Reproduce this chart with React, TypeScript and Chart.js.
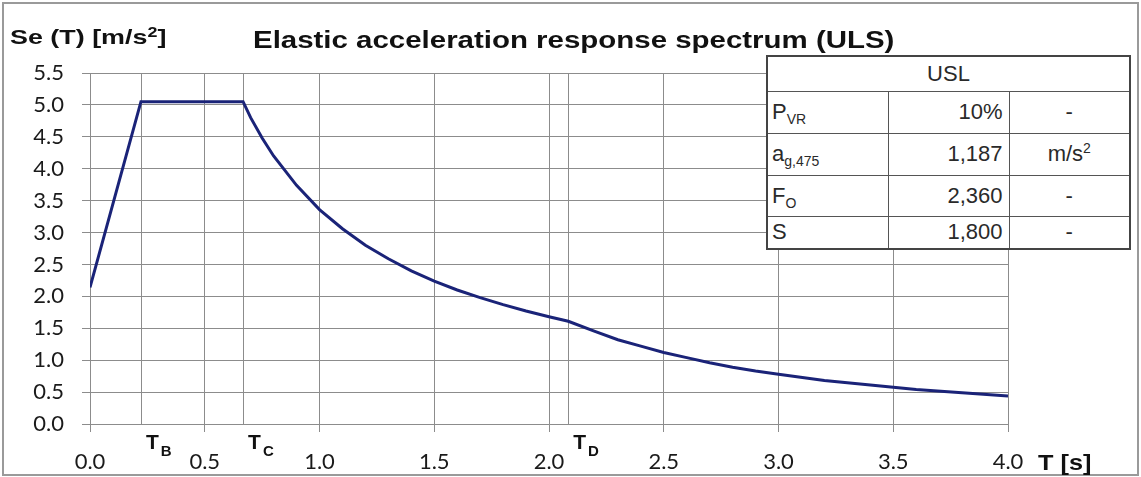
import React, { useEffect, useRef } from "react";
import { Chart, registerables } from "chart.js";

Chart.register(...registerables);

// Period T [s] and elastic spectral acceleration Se(T) [m/s²]
const periods = [0, 0.222, 0.667, 0.7, 0.75, 0.8, 0.9, 1.0, 1.1, 1.2, 1.3, 1.4, 1.5, 1.6, 1.7, 1.8, 1.9, 2.0, 2.084, 2.2, 2.3, 2.4, 2.5, 2.6, 2.7, 2.8, 2.9, 3.0, 3.2, 3.4, 3.6, 3.8, 4.0];
const seValues = [2.14, 5.05, 5.05, 4.8, 4.48, 4.2, 3.74, 3.36, 3.06, 2.8, 2.59, 2.4, 2.24, 2.1, 1.98, 1.87, 1.77, 1.68, 1.61, 1.45, 1.32, 1.22, 1.12, 1.04, 0.96, 0.89, 0.83, 0.78, 0.68, 0.61, 0.54, 0.49, 0.44];

// Corner periods T_B, T_C, T_D
const cornerPeriods = [0.222, 0.667, 2.084];
const cornerNames = ["B", "C", "D"];

// Parameter table
const tableHeader = "USL";
const paramNames = ["P", "a", "F", "S"];
const paramSubs = ["VR", "g,475", "O", ""];
const paramValues = ["10%", "1,187", "2,360", "1,800"];
const paramUnits = ["-", "m/s²", "-", "-"];

const chartTitle = "Elastic acceleration response spectrum (ULS)";
const yTitleMain = "Se (T) [m/s";
const yTitleSup = "2";
const yTitleEnd = "]";
const xTitle = "T [s]";

const GRID = "#8c8c8c";

const cornerPlugin = {
  id: "cornerPeriods",
  beforeDatasetsDraw(chart: any) {
    const { ctx, chartArea, scales } = chart;
    ctx.save();
    ctx.strokeStyle = GRID;
    ctx.lineWidth = 1;
    cornerPeriods.forEach((t) => {
      const x = Math.round(scales.x.getPixelForValue(t)) + 0.5;
      ctx.beginPath();
      ctx.moveTo(x, chartArea.top);
      ctx.lineTo(x, chartArea.bottom);
      ctx.stroke();
    });
    ctx.restore();
  },
  afterDraw(chart: any) {
    const { ctx, chartArea, scales } = chart;
    ctx.save();
    ctx.fillStyle = "#111";
    ctx.textBaseline = "alphabetic";
    ctx.textAlign = "left";
    cornerPeriods.forEach((t, i) => {
      const x = scales.x.getPixelForValue(t) + 5;
      const y = chartArea.bottom + 25;
      ctx.font = "bold 21px 'Liberation Sans', Arial, sans-serif";
      ctx.fillText("T", x, y);
      const w = ctx.measureText("T").width;
      ctx.font = "bold 15px 'Liberation Sans', Arial, sans-serif";
      ctx.fillText(cornerNames[i], x + w + 2, y + 7);
    });
    ctx.restore();
  },
};

export default function App() {
  const canvasRef = useRef<HTMLCanvasElement | null>(null);

  useEffect(() => {
    if (!canvasRef.current) return;
    const chart = new Chart(canvasRef.current, {
      type: "scatter",
      data: {
        datasets: [
          {
            label: "Se(T)",
            data: periods.map((t, i) => ({ x: t, y: seValues[i] })),
            showLine: true,
            borderColor: "#1a2378",
            backgroundColor: "#1a2378",
            borderWidth: 3,
            pointRadius: 0,
            tension: 0,
          },
        ],
      },
      options: {
        animation: false,
        responsive: false,
        maintainAspectRatio: false,
        layout: { padding: { left: 0, top: 73, right: 133, bottom: 0 } },
        plugins: {
          legend: { display: false },
          title: { display: false },
          tooltip: { enabled: false },
        },
        scales: {
          x: {
            type: "linear",
            min: 0,
            max: 4,
            afterFit: (s: any) => {
              s.height = 53;
            },
            ticks: {
              stepSize: 0.5,
              autoSkip: false,
              maxRotation: 0,
              padding: 17,
              color: "#1a1a1a",
              font: { family: "Lato, 'DejaVu Sans', sans-serif", size: 22 },
              callback: (v: any) => Number(v).toFixed(1),
            },
            grid: { color: GRID, lineWidth: 1, tickLength: 8, tickColor: GRID },
            border: { color: GRID, width: 1 },
          },
          y: {
            type: "linear",
            min: 0,
            max: 5.5,
            afterFit: (s: any) => {
              s.width = 90;
            },
            ticks: {
              stepSize: 0.5,
              autoSkip: false,
              padding: 18,
              color: "#1a1a1a",
              font: { family: "Lato, 'DejaVu Sans', sans-serif", size: 22 },
              callback: (v: any) => Number(v).toFixed(1),
            },
            grid: { color: GRID, lineWidth: 1, tickLength: 8, tickColor: GRID },
            border: { color: GRID, width: 1 },
          },
        },
      },
      plugins: [cornerPlugin],
    });
    return () => chart.destroy();
  }, []);

  const boldFont = "'Liberation Sans', Arial, sans-serif";
  const cell: React.CSSProperties = {
    border: "1px solid #555",
    padding: "0 6px",
    fontFamily: boldFont,
    fontSize: 22,
    color: "#2a2a2a",
    whiteSpace: "nowrap",
  };
  const rowHeights = [42, 42, 41, 33];

  return (
    <div
      style={{
        position: "fixed",
        left: 0,
        top: 0,
        width: 1141,
        height: 477,
        background: "#fff",
        overflow: "hidden",
      }}
    >
      <canvas ref={canvasRef} width={1141} height={477} style={{ position: "absolute", left: 0, top: 0, width: 1141, height: 477 }} />
      <div
        style={{
          position: "absolute",
          left: 2,
          top: 2,
          width: 1133,
          height: 470,
          border: "2px solid #9a9a9a",
          pointerEvents: "none",
        }}
      />
      <div
        style={{
          position: "absolute",
          left: 253,
          top: 27,
          fontFamily: boldFont,
          fontWeight: "bold",
          fontSize: 23,
          color: "#111",
          whiteSpace: "nowrap",
          transform: "scaleX(1.28)",
          transformOrigin: "left top",
        }}
      >
        {chartTitle}
      </div>
      <div
        style={{
          position: "absolute",
          left: 10,
          top: 25,
          fontFamily: boldFont,
          fontWeight: "bold",
          fontSize: 21,
          color: "#111",
          whiteSpace: "nowrap",
          transform: "scaleX(1.28)",
          transformOrigin: "left top",
        }}
      >
        {yTitleMain}
        <sup style={{ fontSize: 14, verticalAlign: "7px", lineHeight: 0 }}>{yTitleSup}</sup>
        {yTitleEnd}
      </div>
      <div
        style={{
          position: "absolute",
          left: 1038,
          top: 450,
          fontFamily: boldFont,
          fontWeight: "bold",
          fontSize: 22,
          color: "#111",
          whiteSpace: "nowrap",
          transform: "scaleX(1.15)",
          transformOrigin: "left top",
        }}
      >
        {xTitle}
      </div>
      <table
        style={{
          position: "absolute",
          left: 766,
          top: 55,
          width: 363,
          borderCollapse: "collapse",
          background: "#fff",
          border: "2px solid #444",
          tableLayout: "fixed",
        }}
      >
        <colgroup>
          <col style={{ width: 121 }} />
          <col style={{ width: 121 }} />
          <col style={{ width: 121 }} />
        </colgroup>
        <tbody>
          <tr style={{ height: 35 }}>
            <td colSpan={3} style={{ ...cell, textAlign: "center" }}>
              {tableHeader}
            </td>
          </tr>
          {paramNames.map((name, i) => (
            <tr key={name} style={{ height: rowHeights[i] }}>
              <td style={{ ...cell, textAlign: "left", padding: "0 4px" }}>
                {name}
                {paramSubs[i] ? (
                  <sub style={{ fontSize: 14, verticalAlign: "-5px", lineHeight: 0 }}>{paramSubs[i]}</sub>
                ) : null}
              </td>
              <td style={{ ...cell, textAlign: "right" }}>{paramValues[i]}</td>
              <td style={{ ...cell, textAlign: "center" }}>
                {paramUnits[i] === "m/s²" ? (
                  <span>
                    m/s<sup style={{ fontSize: 14, verticalAlign: "8px", lineHeight: 0 }}>2</sup>
                  </span>
                ) : (
                  paramUnits[i]
                )}
              </td>
            </tr>
          ))}
        </tbody>
      </table>
    </div>
  );
}
